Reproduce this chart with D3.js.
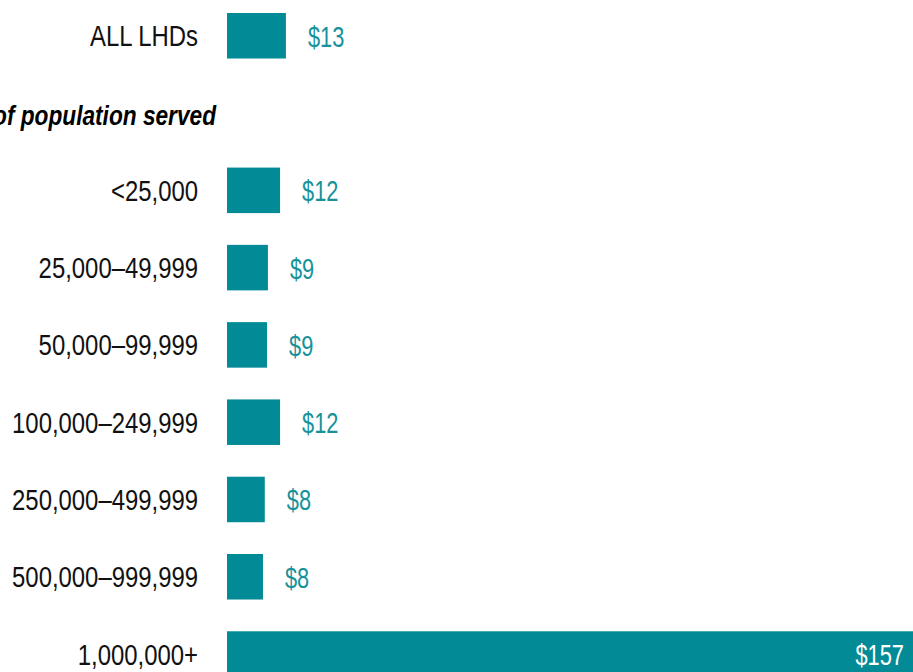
<!DOCTYPE html>
<html>
<head>
<meta charset="utf-8">
<script src="https://cdn.jsdelivr.net/npm/d3@7"></script>
<style>
  html, body { margin: 0; padding: 0; background: #fff; }
  svg { display: block; overflow: hidden; }
  text { font-family: "Liberation Sans", Arial, sans-serif; }
</style>
</head>
<body>
<div id="chart"></div>
<script>
// data
const overallLabel = "ALL LHDs";
const overallValue = 13.1;

const groupTitle = "Size of population served";
const sizeCategories = ["<25,000", "25,000\u201349,999", "50,000\u201399,999", "100,000\u2013249,999",
    "250,000\u2013499,999", "500,000\u2013999,999", "1,000,000+"];
const sizeValues = [11.8, 9.1, 8.9, 11.8, 8.4, 8.0, 157];

const width = 913, height = 672;
const x0 = 227;
const teal = "#028b96";
const squeeze = 0.81;   // no condensed face installed, so narrow the text by hand
const squeezeVal = 0.74;

let rows = [{label: overallLabel, value: overallValue}]
    .concat(sizeCategories.map((c, i) => ({label: c, value: sizeValues[i]})));

let svg = d3.select("#chart").append("svg")
    .attr("width", width)
    .attr("height", height);

// one slot per row plus the group header slot
let y = d3.scaleBand()
    .domain([overallLabel, "__header"].concat(sizeCategories))
    .range([13, 676.8])
    .paddingInner(0.411)
    .paddingOuter(0);

let x = d3.scaleLinear()
    .domain([0, 157])
    .range([0, 706]);

let fmt = v => "$" + d3.format(".0f")(v);
let inside = d => x0 + x(d.value) > width;

// group header
svg.append("text")
    .attr("transform", "translate(216," + (y("__header") + y.bandwidth() / 2 + 12) + ") scale(" + squeeze + ",1)")
    .attr("text-anchor", "end")
    .attr("font-size", 28)
    .attr("font-weight", "bold")
    .attr("font-style", "italic")
    .attr("fill", "#000")
    .text(groupTitle);

let row = svg.selectAll(".row")
    .data(rows)
    .enter().append("g")
    .attr("class", "row")
    .attr("transform", d => "translate(0," + y(d.label) + ")");

row.append("rect")
    .attr("x", x0)
    .attr("y", 0)
    .attr("width", d => x(d.value))
    .attr("height", y.bandwidth())
    .attr("fill", teal);

row.append("text")
    .attr("transform", "translate(198," + (y.bandwidth() / 2 + 10.5) + ") scale(" + squeeze + ",1)")
    .attr("text-anchor", "end")
    .attr("font-size", 29.5)
    .attr("fill", "#111")
    .text(d => d.label);

// value labels: outside for short bars, inside for the one running off the page
row.append("text")
    .attr("transform", d => {
        let lx = inside(d) ? x0 + x(d.value) - 29 : x0 + x(d.value) + 22;
        return "translate(" + lx + "," + (y.bandwidth() / 2 + 11) + ") scale(" + squeezeVal + ",1)";
    })
    .attr("text-anchor", d => inside(d) ? "end" : "start")
    .attr("font-size", 29.5)
    .attr("fill", d => inside(d) ? "#fff" : "#17929b")
    .text(d => fmt(d.value));
</script>
</body>
</html>
